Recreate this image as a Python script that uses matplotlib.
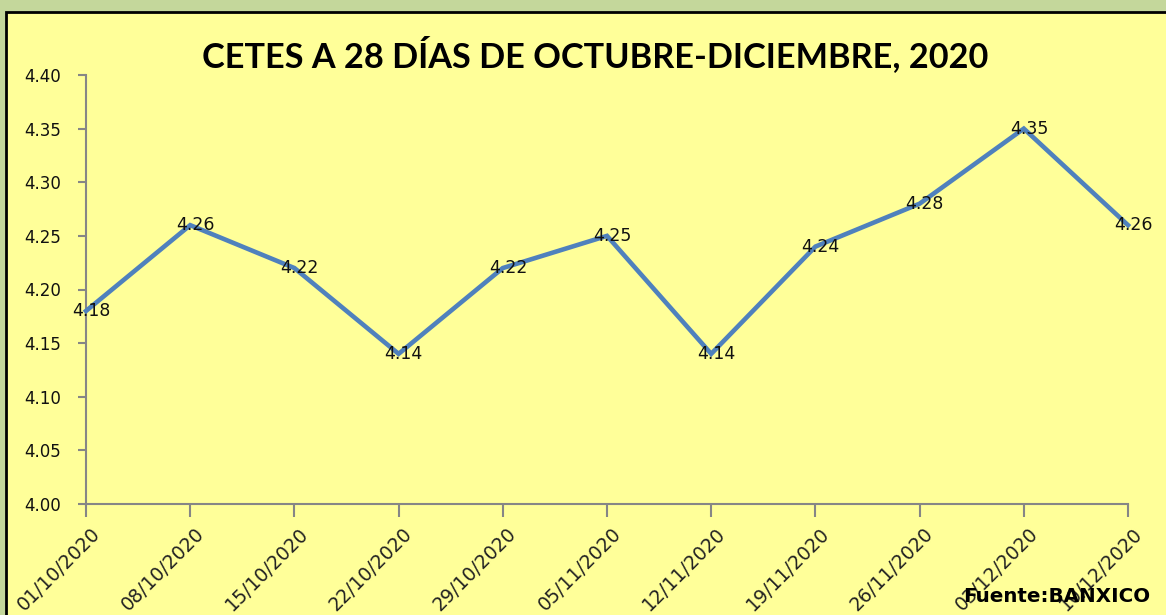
import matplotlib
matplotlib.use("Agg")
import matplotlib.pyplot as plt
import matplotlib.transforms as mtransforms
from matplotlib.patches import Rectangle

fechas = ["01/10/2020", "08/10/2020", "15/10/2020", "22/10/2020", "29/10/2020",
          "05/11/2020", "12/11/2020", "19/11/2020", "26/11/2020", "03/12/2020",
          "10/12/2020"]
tasas = [4.18, 4.26, 4.22, 4.14, 4.22, 4.25, 4.14, 4.24, 4.28, 4.35, 4.26]
y_ticks = [4.00, 4.05, 4.10, 4.15, 4.20, 4.25, 4.30, 4.35, 4.40]

W, H = 1166, 615
fig = plt.figure(figsize=(W / 100, H / 100), dpi=100)
fig.patch.set_facecolor("#c4d79b")

# marco amarillo con borde negro
fig.patches.append(Rectangle((6 / W, -0.05), 1.1, 1 - 12 / H + 0.05,
                             transform=fig.transFigure, facecolor="#ffff99",
                             edgecolor="black", linewidth=2, zorder=-5))

ax = fig.add_axes([86 / W, 1 - 504 / H, (1128 - 86) / W, (504 - 75) / H])
ax.set_facecolor("none")
ax.set_zorder(2)

x = list(range(len(tasas)))
ax.plot(x, tasas, color="#4f81bd", linewidth=3.3, solid_joinstyle="miter",
        clip_on=False, zorder=3)
for xi, v in zip(x, tasas):
    ax.text(xi + 0.05, v, f"{v:.2f}", ha="center", va="center", fontsize=12.5,
            color="#111111", zorder=4)

ax.set_xlim(0, 10)
ax.set_ylim(4.0, 4.4)
ax.set_yticks(y_ticks)
ax.set_yticklabels([f"{t:.2f}" for t in y_ticks])
ax.set_xticks(x)
ax.set_xticklabels(fechas, rotation=45, ha="right", va="center",
                   rotation_mode="anchor", fontsize=13.6)

for s in ["top", "right"]:
    ax.spines[s].set_visible(False)
for s in ["left", "bottom"]:
    ax.spines[s].set_color("#868686")
    ax.spines[s].set_linewidth(1.5)
ax.tick_params(axis="y", direction="out", length=6, width=1.5, color="#868686",
               labelsize=12, pad=12, labelcolor="#111111")
ax.tick_params(axis="x", direction="out", length=9, width=1.5, color="#868686",
               pad=4, labelcolor="#222222")

# desplazar las fechas a la derecha del tick
offset = mtransforms.ScaledTranslation(0.11, -0.085, fig.dpi_scale_trans)
for lab in ax.get_xticklabels():
    lab.set_transform(lab.get_transform() + offset)

fig.text(595 / W, 1 - 55 / H, "CETES A 28 DÍAS DE OCTUBRE-DICIEMBRE, 2020",
         ha="center", va="center", fontsize=24.7, fontweight="bold",
         family="Lato", color="black")
fig.text(1150 / W, 1 - 596 / H, "Fuente:BANXICO", ha="right", va="center",
         fontsize=14.3, fontweight="bold", color="black", zorder=10)

fig.savefig("out.png", dpi=100, facecolor=fig.get_facecolor())
